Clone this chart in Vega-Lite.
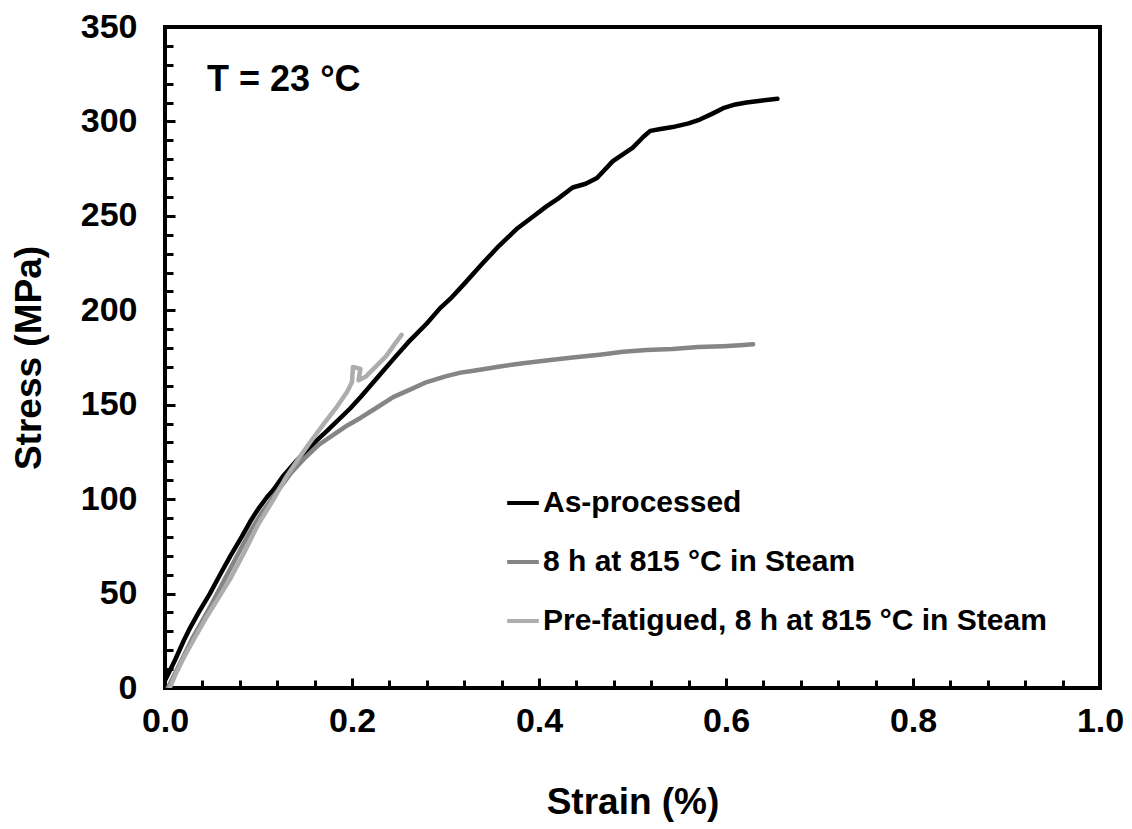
{
  "$schema": "https://vega.github.io/schema/vega-lite/v6.json",
  "width": 935,
  "height": 661,
  "autosize": {"type": "none"},
  "padding": {"left": 165, "top": 27, "right": 32, "bottom": 141},
  "background": "white",
  "config": {
    "view": {"stroke": "black", "strokeWidth": 4},
    "font": "Liberation Sans"
  },
  "datasets": {
    "curves": [
      {"series": "As-processed", "k": 1, "i": 1, "strain": 0.000, "stress": 4},
      {"series": "As-processed", "k": 1, "i": 2, "strain": 0.010, "stress": 14},
      {"series": "As-processed", "k": 1, "i": 3, "strain": 0.020, "stress": 25},
      {"series": "As-processed", "k": 1, "i": 4, "strain": 0.027, "stress": 32},
      {"series": "As-processed", "k": 1, "i": 5, "strain": 0.036, "stress": 40},
      {"series": "As-processed", "k": 1, "i": 6, "strain": 0.048, "stress": 50},
      {"series": "As-processed", "k": 1, "i": 7, "strain": 0.060, "stress": 61},
      {"series": "As-processed", "k": 1, "i": 8, "strain": 0.070, "stress": 70},
      {"series": "As-processed", "k": 1, "i": 9, "strain": 0.082, "stress": 80},
      {"series": "As-processed", "k": 1, "i": 10, "strain": 0.091, "stress": 88},
      {"series": "As-processed", "k": 1, "i": 11, "strain": 0.100, "stress": 95},
      {"series": "As-processed", "k": 1, "i": 12, "strain": 0.109, "stress": 101},
      {"series": "As-processed", "k": 1, "i": 13, "strain": 0.116, "stress": 105},
      {"series": "As-processed", "k": 1, "i": 14, "strain": 0.126, "stress": 112},
      {"series": "As-processed", "k": 1, "i": 15, "strain": 0.140, "stress": 120},
      {"series": "As-processed", "k": 1, "i": 16, "strain": 0.162, "stress": 131},
      {"series": "As-processed", "k": 1, "i": 17, "strain": 0.173, "stress": 136},
      {"series": "As-processed", "k": 1, "i": 18, "strain": 0.198, "stress": 148},
      {"series": "As-processed", "k": 1, "i": 19, "strain": 0.209, "stress": 154},
      {"series": "As-processed", "k": 1, "i": 20, "strain": 0.230, "stress": 166},
      {"series": "As-processed", "k": 1, "i": 21, "strain": 0.244, "stress": 174},
      {"series": "As-processed", "k": 1, "i": 22, "strain": 0.260, "stress": 183},
      {"series": "As-processed", "k": 1, "i": 23, "strain": 0.280, "stress": 193},
      {"series": "As-processed", "k": 1, "i": 24, "strain": 0.294, "stress": 201},
      {"series": "As-processed", "k": 1, "i": 25, "strain": 0.305, "stress": 206},
      {"series": "As-processed", "k": 1, "i": 26, "strain": 0.320, "stress": 214},
      {"series": "As-processed", "k": 1, "i": 27, "strain": 0.340, "stress": 225},
      {"series": "As-processed", "k": 1, "i": 28, "strain": 0.357, "stress": 234},
      {"series": "As-processed", "k": 1, "i": 29, "strain": 0.376, "stress": 243},
      {"series": "As-processed", "k": 1, "i": 30, "strain": 0.392, "stress": 249},
      {"series": "As-processed", "k": 1, "i": 31, "strain": 0.408, "stress": 255},
      {"series": "As-processed", "k": 1, "i": 32, "strain": 0.420, "stress": 259},
      {"series": "As-processed", "k": 1, "i": 33, "strain": 0.436, "stress": 265},
      {"series": "As-processed", "k": 1, "i": 34, "strain": 0.450, "stress": 267},
      {"series": "As-processed", "k": 1, "i": 35, "strain": 0.462, "stress": 270},
      {"series": "As-processed", "k": 1, "i": 36, "strain": 0.479, "stress": 279},
      {"series": "As-processed", "k": 1, "i": 37, "strain": 0.500, "stress": 286},
      {"series": "As-processed", "k": 1, "i": 38, "strain": 0.512, "stress": 292},
      {"series": "As-processed", "k": 1, "i": 39, "strain": 0.519, "stress": 295},
      {"series": "As-processed", "k": 1, "i": 40, "strain": 0.530, "stress": 296},
      {"series": "As-processed", "k": 1, "i": 41, "strain": 0.543, "stress": 297},
      {"series": "As-processed", "k": 1, "i": 42, "strain": 0.560, "stress": 299},
      {"series": "As-processed", "k": 1, "i": 43, "strain": 0.572, "stress": 301},
      {"series": "As-processed", "k": 1, "i": 44, "strain": 0.585, "stress": 304},
      {"series": "As-processed", "k": 1, "i": 45, "strain": 0.597, "stress": 307},
      {"series": "As-processed", "k": 1, "i": 46, "strain": 0.610, "stress": 309},
      {"series": "As-processed", "k": 1, "i": 47, "strain": 0.622, "stress": 310},
      {"series": "As-processed", "k": 1, "i": 48, "strain": 0.637, "stress": 311},
      {"series": "As-processed", "k": 1, "i": 49, "strain": 0.655, "stress": 312},

      {"series": "8 h at 815 °C in Steam", "k": 2, "i": 1, "strain": 0.003, "stress": 0},
      {"series": "8 h at 815 °C in Steam", "k": 2, "i": 2, "strain": 0.015, "stress": 12},
      {"series": "8 h at 815 °C in Steam", "k": 2, "i": 3, "strain": 0.030, "stress": 27},
      {"series": "8 h at 815 °C in Steam", "k": 2, "i": 4, "strain": 0.045, "stress": 40},
      {"series": "8 h at 815 °C in Steam", "k": 2, "i": 5, "strain": 0.060, "stress": 54},
      {"series": "8 h at 815 °C in Steam", "k": 2, "i": 6, "strain": 0.075, "stress": 68},
      {"series": "8 h at 815 °C in Steam", "k": 2, "i": 7, "strain": 0.090, "stress": 82},
      {"series": "8 h at 815 °C in Steam", "k": 2, "i": 8, "strain": 0.105, "stress": 94},
      {"series": "8 h at 815 °C in Steam", "k": 2, "i": 9, "strain": 0.120, "stress": 104},
      {"series": "8 h at 815 °C in Steam", "k": 2, "i": 10, "strain": 0.135, "stress": 114},
      {"series": "8 h at 815 °C in Steam", "k": 2, "i": 11, "strain": 0.150, "stress": 122},
      {"series": "8 h at 815 °C in Steam", "k": 2, "i": 12, "strain": 0.165, "stress": 129},
      {"series": "8 h at 815 °C in Steam", "k": 2, "i": 13, "strain": 0.180, "stress": 134},
      {"series": "8 h at 815 °C in Steam", "k": 2, "i": 14, "strain": 0.195, "stress": 139},
      {"series": "8 h at 815 °C in Steam", "k": 2, "i": 15, "strain": 0.209, "stress": 143},
      {"series": "8 h at 815 °C in Steam", "k": 2, "i": 16, "strain": 0.225, "stress": 148},
      {"series": "8 h at 815 °C in Steam", "k": 2, "i": 17, "strain": 0.244, "stress": 154},
      {"series": "8 h at 815 °C in Steam", "k": 2, "i": 18, "strain": 0.262, "stress": 158},
      {"series": "8 h at 815 °C in Steam", "k": 2, "i": 19, "strain": 0.280, "stress": 162},
      {"series": "8 h at 815 °C in Steam", "k": 2, "i": 20, "strain": 0.300, "stress": 165},
      {"series": "8 h at 815 °C in Steam", "k": 2, "i": 21, "strain": 0.316, "stress": 167},
      {"series": "8 h at 815 °C in Steam", "k": 2, "i": 22, "strain": 0.330, "stress": 168},
      {"series": "8 h at 815 °C in Steam", "k": 2, "i": 23, "strain": 0.355, "stress": 170},
      {"series": "8 h at 815 °C in Steam", "k": 2, "i": 24, "strain": 0.383, "stress": 172},
      {"series": "8 h at 815 °C in Steam", "k": 2, "i": 25, "strain": 0.410, "stress": 173.5},
      {"series": "8 h at 815 °C in Steam", "k": 2, "i": 26, "strain": 0.436, "stress": 175},
      {"series": "8 h at 815 °C in Steam", "k": 2, "i": 27, "strain": 0.465, "stress": 176.5},
      {"series": "8 h at 815 °C in Steam", "k": 2, "i": 28, "strain": 0.490, "stress": 178},
      {"series": "8 h at 815 °C in Steam", "k": 2, "i": 29, "strain": 0.515, "stress": 179},
      {"series": "8 h at 815 °C in Steam", "k": 2, "i": 30, "strain": 0.543, "stress": 179.5},
      {"series": "8 h at 815 °C in Steam", "k": 2, "i": 31, "strain": 0.570, "stress": 180.5},
      {"series": "8 h at 815 °C in Steam", "k": 2, "i": 32, "strain": 0.597, "stress": 181},
      {"series": "8 h at 815 °C in Steam", "k": 2, "i": 33, "strain": 0.615, "stress": 181.5},
      {"series": "8 h at 815 °C in Steam", "k": 2, "i": 34, "strain": 0.629, "stress": 182},

      {"series": "Pre-fatigued, 8 h at 815 °C in Steam", "k": 3, "i": 1, "strain": 0.005, "stress": 0},
      {"series": "Pre-fatigued, 8 h at 815 °C in Steam", "k": 3, "i": 2, "strain": 0.012, "stress": 8},
      {"series": "Pre-fatigued, 8 h at 815 °C in Steam", "k": 3, "i": 3, "strain": 0.020, "stress": 16},
      {"series": "Pre-fatigued, 8 h at 815 °C in Steam", "k": 3, "i": 4, "strain": 0.030, "stress": 25},
      {"series": "Pre-fatigued, 8 h at 815 °C in Steam", "k": 3, "i": 5, "strain": 0.045, "stress": 38},
      {"series": "Pre-fatigued, 8 h at 815 °C in Steam", "k": 3, "i": 6, "strain": 0.060, "stress": 50},
      {"series": "Pre-fatigued, 8 h at 815 °C in Steam", "k": 3, "i": 7, "strain": 0.070, "stress": 58},
      {"series": "Pre-fatigued, 8 h at 815 °C in Steam", "k": 3, "i": 8, "strain": 0.085, "stress": 72},
      {"series": "Pre-fatigued, 8 h at 815 °C in Steam", "k": 3, "i": 9, "strain": 0.100, "stress": 87},
      {"series": "Pre-fatigued, 8 h at 815 °C in Steam", "k": 3, "i": 10, "strain": 0.115, "stress": 99},
      {"series": "Pre-fatigued, 8 h at 815 °C in Steam", "k": 3, "i": 11, "strain": 0.130, "stress": 112},
      {"series": "Pre-fatigued, 8 h at 815 °C in Steam", "k": 3, "i": 12, "strain": 0.145, "stress": 123},
      {"series": "Pre-fatigued, 8 h at 815 °C in Steam", "k": 3, "i": 13, "strain": 0.155, "stress": 130},
      {"series": "Pre-fatigued, 8 h at 815 °C in Steam", "k": 3, "i": 14, "strain": 0.170, "stress": 140},
      {"series": "Pre-fatigued, 8 h at 815 °C in Steam", "k": 3, "i": 15, "strain": 0.184, "stress": 149},
      {"series": "Pre-fatigued, 8 h at 815 °C in Steam", "k": 3, "i": 16, "strain": 0.195, "stress": 157},
      {"series": "Pre-fatigued, 8 h at 815 °C in Steam", "k": 3, "i": 17, "strain": 0.200, "stress": 162},
      {"series": "Pre-fatigued, 8 h at 815 °C in Steam", "k": 3, "i": 18, "strain": 0.201, "stress": 170},
      {"series": "Pre-fatigued, 8 h at 815 °C in Steam", "k": 3, "i": 19, "strain": 0.209, "stress": 169},
      {"series": "Pre-fatigued, 8 h at 815 °C in Steam", "k": 3, "i": 20, "strain": 0.207, "stress": 163},
      {"series": "Pre-fatigued, 8 h at 815 °C in Steam", "k": 3, "i": 21, "strain": 0.215, "stress": 165},
      {"series": "Pre-fatigued, 8 h at 815 °C in Steam", "k": 3, "i": 22, "strain": 0.227, "stress": 171},
      {"series": "Pre-fatigued, 8 h at 815 °C in Steam", "k": 3, "i": 23, "strain": 0.237, "stress": 176},
      {"series": "Pre-fatigued, 8 h at 815 °C in Steam", "k": 3, "i": 24, "strain": 0.247, "stress": 183},
      {"series": "Pre-fatigued, 8 h at 815 °C in Steam", "k": 3, "i": 25, "strain": 0.253, "stress": 187}
    ]
  },
  "layer": [
    {
      "data": {"name": "curves"},
      "mark": {"type": "line", "strokeWidth": 4.5, "strokeJoin": "round", "strokeCap": "round", "clip": true},
      "encoding": {
        "x": {
          "field": "strain", "type": "quantitative",
          "scale": {"domain": [0, 1], "nice": false, "zero": false},
          "axis": {
            "title": "Strain (%)",
            "values": [0, 0.04, 0.08, 0.12, 0.16, 0.2, 0.24, 0.28, 0.32, 0.36, 0.4, 0.44, 0.48, 0.52, 0.56, 0.6, 0.64, 0.68, 0.72, 0.76, 0.8, 0.84, 0.88, 0.92, 0.96, 1.0],
            "tickCount": 100,
            "labelExpr": "abs(datum.value * 5 - round(datum.value * 5)) < 0.001 ? format(datum.value, '.1f') : ''",
            "grid": false,
            "domain": false,
            "tickColor": "black",
            "tickWidth": 3,
            "tickSize": {"condition": {"test": "abs(datum.value * 5 - round(datum.value * 5)) < 0.001", "value": -10}, "value": -8},
            "labelFont": "Liberation Sans",
            "labelFontWeight": "bold",
            "labelFontSize": 34,
            "labelColor": "black",
            "labelPadding": 26,
            "labelFlush": false,
            "labelOverlap": false,
            "titleFont": "Liberation Sans",
            "titleFontWeight": "bold",
            "titleFontSize": 37,
            "titleColor": "black",
            "titlePadding": 44
          }
        },
        "y": {
          "field": "stress", "type": "quantitative",
          "scale": {"domain": [0, 350], "nice": false},
          "axis": {
            "title": "Stress (MPa)",
            "values": [0, 10, 20, 30, 40, 50, 60, 70, 80, 90, 100, 110, 120, 130, 140, 150, 160, 170, 180, 190, 200, 210, 220, 230, 240, 250, 260, 270, 280, 290, 300, 310, 320, 330, 340, 350],
            "tickCount": 100,
            "labelExpr": "datum.value % 50 == 0 ? format(datum.value, 'd') : ''",
            "grid": false,
            "domain": false,
            "tickColor": "black",
            "tickWidth": 3,
            "tickSize": {"condition": {"test": "datum.value % 50 == 0", "value": -10}, "value": -8},
            "labelFont": "Liberation Sans",
            "labelFontWeight": "bold",
            "labelFontSize": 34,
            "labelColor": "black",
            "labelPadding": 38,
            "labelFlush": false,
            "labelOverlap": false,
            "titleFont": "Liberation Sans",
            "titleFontWeight": "bold",
            "titleFontSize": 37,
            "titleColor": "black",
            "titlePadding": 32
          }
        },
        "color": {
          "field": "series", "type": "nominal",
          "scale": {
            "domain": ["As-processed", "8 h at 815 °C in Steam", "Pre-fatigued, 8 h at 815 °C in Steam"],
            "range": ["#000000", "#858585", "#adadad"]
          },
          "legend": {
            "title": null,
            "orient": "none",
            "legendX": 340,
            "legendY": 458,
            "symbolType": "stroke",
            "symbolSize": 1000,
            "symbolStrokeWidth": 4,
            "labelFont": "Liberation Sans",
            "labelFontWeight": "bold",
            "labelFontSize": 30,
            "labelColor": "black",
            "labelOffset": 2,
            "labelLimit": 800,
            "rowPadding": 26
          }
        },
        "order": {"field": "i", "type": "quantitative"},
        "detail": {"field": "k", "type": "quantitative"}
      }
    },
    {
      "data": {"values": [{"label": "T = 23 °C"}]},
      "mark": {"type": "text", "font": "Liberation Sans", "fontWeight": "bold", "fontSize": 36, "align": "left", "baseline": "middle", "color": "black"},
      "encoding": {
        "x": {"datum": 0.045, "type": "quantitative"},
        "y": {"datum": 322, "type": "quantitative"},
        "text": {"field": "label", "type": "nominal"}
      }
    }
  ]
}
